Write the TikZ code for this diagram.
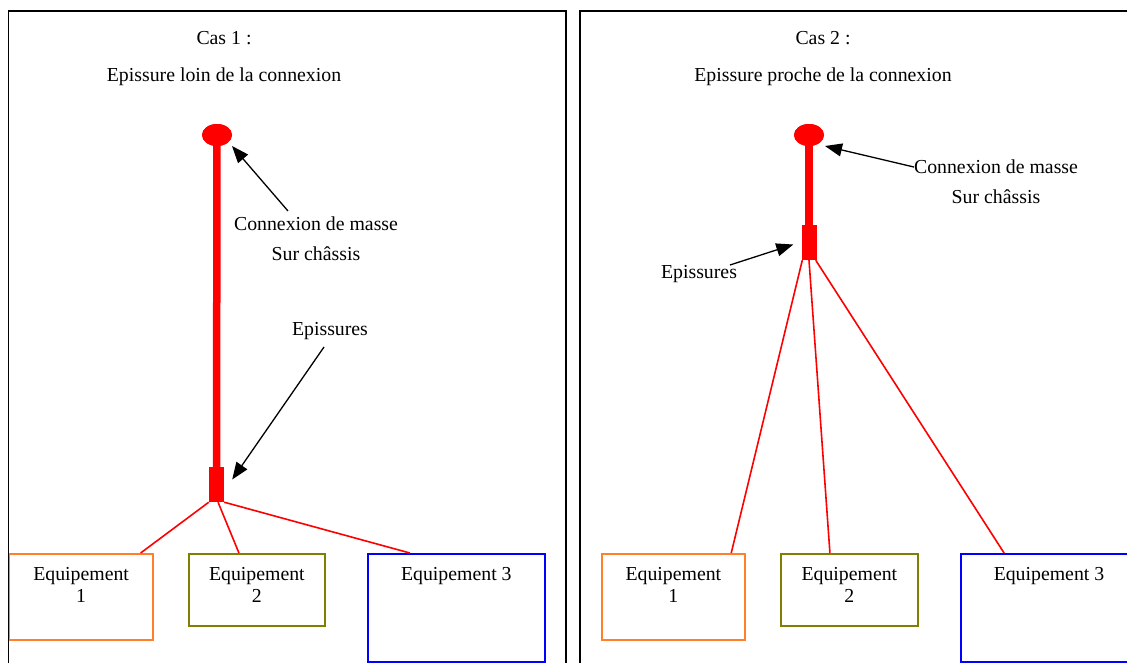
\documentclass[tikz,border=0pt]{standalone}
\usepackage{fontspec}
\setmainfont{Liberation Serif}
\usetikzlibrary{arrows.meta,shapes.geometric,calc}
\definecolor{eqorange}{RGB}{255,128,40}
\definecolor{eqolive}{RGB}{128,128,0}
\definecolor{eqblue}{RGB}{0,0,255}
\begin{document}
\begin{tikzpicture}[x=1pt,y=-1pt,
  every node/.style={font=\fontsize{19.8}{22}\selectfont},
  panel/.style={draw=black,line width=1.6pt},
  txt/.style={inner sep=0pt,align=center},
  ground/.style={ellipse,fill=red,draw=none,minimum width=30pt,minimum height=22pt,inner sep=0pt},
  splice/.style={rectangle,fill=red,draw=none,inner sep=0pt},
  post/.style={draw=red,line width=7.5pt},
  wire/.style={draw=red,line width=1.6pt},
  pointer/.style={draw=black,line width=1.3pt,-{Triangle[length=17pt,width=13pt]}},
  eqbox/.style={rectangle,draw,line width=1.7pt,anchor=north west,inner sep=0pt},
  eqlabel/.style={anchor=north,inner sep=0pt,align=center,yshift=-14pt}
]
\useasboundingbox (0,0) rectangle (1127,662);
\clip (0,0) rectangle (1127,662);
\fill[white] (0,0) rectangle (1127,662);

% ---------- Left panel ----------
\node[txt] (cas1) at (224,38) {Cas 1 :};
\node[txt] (tit1) at (224,77) {Epissure loin de la connexion};

\node[ground] (g1) at (217,135) {};
\node[splice,minimum width=15pt,minimum height=35pt] (s1) at (216.5,484.5) {};
\draw[post] (g1.center) -- (s1.north);
\node[ground] at (217,135) {};

\node[eqbox,draw=eqorange,minimum width=143.5pt,minimum height=86pt,
  label={[eqlabel]north:Equipement\\1}] (eq1) at (8.5,553) {};
\node[eqbox,draw=eqolive,minimum width=136pt,minimum height=72pt,
  label={[eqlabel]north:Equipement\\2}] (eq2) at (188,553) {};
\node[eqbox,draw=eqblue,minimum width=177pt,minimum height=108pt,
  label={[eqlabel]north:Equipement 3}] (eq3) at (367,553) {};

\draw[panel] (8.5,700) -- (8.5,11) -- (566,11) -- (566,700);

\draw[wire] (s1.south west) -- ($(eq1.north west)!0.91!(eq1.north east)$);
\draw[wire] ($(s1.south west)!0.6!(s1.south east)$) -- ($(eq2.north west)!0.37!(eq2.north east)$);
\draw[wire] (s1.south east) -- ($(eq3.north west)!0.24!(eq3.north east)$);

\node[txt] (cm1) at (316,224) {Connexion de masse};
\node[txt] (sc1) at (316,254) {Sur châssis};
\node[txt] (ep1) at (330,331) {Epissures};
\coordinate (a1) at (288,211);
\coordinate (b1) at (324,347);
\draw[pointer] (a1) -- ($(g1.center)+(15,11)$);
\draw[pointer] (b1) -- ($(s1.east)+(8,-5)$);

% ---------- Right panel ----------
\draw[panel] (580,700) -- (580,11) -- (1140,11);
\node[txt] (cas2) at (823,38) {Cas 2 :};
\node[txt] (tit2) at (823,77) {Epissure proche de la connexion};

\node[ground] (g2) at (809,135) {};
\node[splice,minimum width=15pt,minimum height=35pt] (s2) at (809,242.5) {};
\draw[post] (g2.center) -- (s2.north);
\node[ground] at (809,135) {};

\node[eqbox,draw=eqorange,minimum width=143pt,minimum height=86pt,
  label={[eqlabel]north:Equipement\\1}] (eq4) at (601,553) {};
\node[eqbox,draw=eqolive,minimum width=137pt,minimum height=72pt,
  label={[eqlabel]north:Equipement\\2}] (eq5) at (780,553) {};
\node[eqbox,draw=eqblue,minimum width=190pt,minimum height=108pt] (eq6) at (960,553) {};
\node[anchor=north,inner sep=0pt,yshift=-14pt] (eq6t) at (1049,553) {Equipement 3};

\draw[wire] ($(s2.south west)+(1,0)$) -- ($(eq4.north west)!0.90!(eq4.north east)$);
\draw[wire] (s2.south) -- ($(eq5.north west)!0.36!(eq5.north east)$);
\draw[wire] ($(s2.south east)+(-1,0)$) -- ($(eq6.north west)!0.23!(eq6.north east)$);

\node[txt] (cm2) at (996,167) {Connexion de masse};
\node[txt] (sc2) at (996,197) {Sur châssis};
\node[txt] (ep2) at (699,274) {Epissures};
\draw[pointer] (cm2.west) -- ($(g2.center)+(16,11)$);
\coordinate (b2) at (730,265);
\draw[pointer] (b2) -- ($(s2.west)+(-8,2)$);
\end{tikzpicture}
\end{document}
